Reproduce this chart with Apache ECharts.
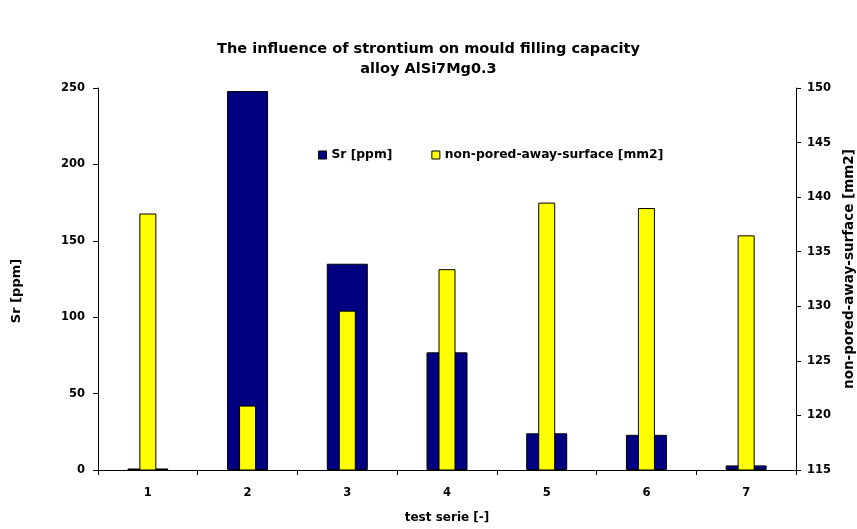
<!DOCTYPE html>
<html>
<head>
<meta charset="utf-8">
<script src="https://cdn.jsdelivr.net/npm/echarts@6/dist/echarts.min.js"></script>
<style>
  html, body { margin: 0; padding: 0; background: #fff; }
  #chart { width: 857px; height: 529px; }
</style>
</head>
<body>
<div id="chart"></div>
<script>
// Test series on the category axis
const categories = ['1', '2', '3', '4', '5', '6', '7'];
// Strontium content per test serie [ppm] (left axis)
const srPpm = [1, 248, 135, 77, 24, 23, 3];
// Non-pored-away surface per test serie [mm2] (right axis)
const surfaceMm2 = [138.5, 120.9, 129.6, 133.4, 139.5, 139.0, 136.5];
// Axis ranges
const leftTicks = { min: 0, max: 250, interval: 50 };
const rightTicks = { min: 115, max: 150, interval: 5 };

const FONT = '"DejaVu Sans", "Liberation Sans", Arial, sans-serif';
const tickText = { color: '#000', fontFamily: FONT, fontWeight: 'bold', fontSize: 11.5 };
const nameText = { color: '#000', fontFamily: FONT, fontWeight: 'bold', fontSize: 12 };

const chart = echarts.init(document.getElementById('chart'), null, { renderer: 'canvas' });

chart.setOption({
  animation: false,
  backgroundColor: '#fff',
  title: {
    text: 'The influence of strontium on mould filling capacity\nalloy AlSi7Mg0.3',
    left: 'center',
    top: 34,
    textStyle: { fontFamily: FONT, fontWeight: 'bold', fontSize: 14.5, lineHeight: 20, color: '#000' }
  },
  legend: {
    left: 318,
    top: 149,
    itemWidth: 8,
    itemHeight: 8,
    itemGap: 39,
    padding: 0,
    textStyle: { fontFamily: FONT, fontWeight: 'bold', fontSize: 12.3, color: '#000' },
    data: [
      { name: 'Sr [ppm]', icon: 'rect', itemStyle: { color: '#000080', borderColor: '#000', borderWidth: 1 } },
      { name: 'non-pored-away-surface [mm2]', icon: 'rect', itemStyle: { color: '#FFFF00', borderColor: '#000', borderWidth: 1 } }
    ]
  },
  grid: { left: 98, right: 61, top: 88, bottom: 59, containLabel: false, outerBoundsMode: 'none' },
  xAxis: [
    {
      type: 'category',
      data: categories,
      name: 'test serie [-]',
      nameLocation: 'middle',
      nameGap: 42,
      nameTextStyle: nameText,
      axisLine: { lineStyle: { color: '#000', width: 1 } },
      axisTick: { show: true, length: 5, lineStyle: { color: '#000' } },
      axisLabel: Object.assign({ margin: 17 }, tickText),
      splitLine: { show: false }
    },
    {
      type: 'category',
      data: categories,
      show: false,
      position: 'bottom'
    }
  ],
  yAxis: [
    {
      type: 'value',
      min: leftTicks.min,
      max: leftTicks.max,
      interval: leftTicks.interval,
      name: 'Sr [ppm]',
      nameLocation: 'middle',
      nameGap: 75,
      nameRotate: 90,
      nameTextStyle: Object.assign({}, nameText, { fontSize: 13, padding: [0, 24, 0, 0] }),
      axisLine: { show: true, lineStyle: { color: '#000', width: 1 } },
      axisTick: { show: true, length: 5, lineStyle: { color: '#000' } },
      axisLabel: Object.assign({ margin: 13 }, tickText),
      splitLine: { show: false }
    },
    {
      type: 'value',
      position: 'right',
      min: rightTicks.min,
      max: rightTicks.max,
      interval: rightTicks.interval,
      name: 'non-pored-away-surface [mm2]',
      nameLocation: 'middle',
      nameGap: 46,
      nameRotate: 90,
      nameTextStyle: Object.assign({}, nameText, { fontSize: 13.5, padding: [0, 0, 0, 20] }),
      axisLine: { show: true, lineStyle: { color: '#000', width: 1 } },
      axisTick: { show: true, length: 5, lineStyle: { color: '#000' } },
      axisLabel: Object.assign({ margin: 11 }, tickText),
      splitLine: { show: false }
    }
  ],
  series: [
    {
      name: 'Sr [ppm]',
      type: 'bar',
      xAxisIndex: 0,
      yAxisIndex: 0,
      data: srPpm,
      barWidth: 41,
      itemStyle: { color: '#000080', borderColor: '#000', borderWidth: 1 }
    },
    {
      name: 'non-pored-away-surface [mm2]',
      type: 'bar',
      xAxisIndex: 1,
      yAxisIndex: 1,
      data: surfaceMm2,
      barWidth: 17,
      itemStyle: { color: '#FFFF00', borderColor: '#000', borderWidth: 1 }
    }
  ]
});
</script>
</body>
</html>
